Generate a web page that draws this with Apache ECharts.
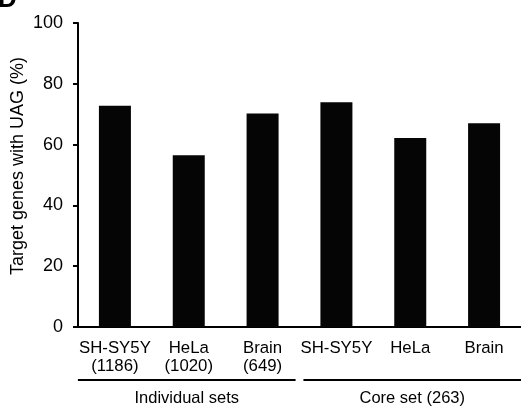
<!DOCTYPE html>
<html><head><meta charset="utf-8">
<script src="https://cdn.jsdelivr.net/npm/echarts@6/dist/echarts.min.js"></script>
<style>html,body{margin:0;padding:0;background:#fff}#c{width:521px;height:407px}</style>
</head><body><div id="c"></div>
<script>
const categories = ['SH-SY5Y\n(1186)', 'HeLa\n(1020)', 'Brain\n(649)', 'SH-SY5Y', 'HeLa', 'Brain'];
const values = [72.8, 56.5, 70.2, 73.9, 62.2, 67.0];
const yTicks = [0, 20, 40, 60, 80, 100];
const groups = [
  { name: 'Individual sets', from: 0, to: 2 },
  { name: 'Core set (263)', from: 3, to: 5 }
];
const FONT = '"Liberation Sans", Arial, sans-serif';
const chart = echarts.init(document.getElementById('c'), null, { renderer: 'canvas' });
const option = {
  animation: false,
  backgroundColor: '#fff',
  grid: { left: 78, right: 0, top: 23, bottom: 80, containLabel: false, outerBoundsMode: 'none' },
  xAxis: {
    type: 'category', data: categories,
    axisLine: { lineStyle: { color: '#000', width: 2 } },
    axisTick: { show: false },
    axisLabel: { color: '#000', fontSize: 16.8, fontFamily: FONT, margin: 12, lineHeight: 18, interval: 0 }
  },
  yAxis: {
    type: 'value', min: yTicks[0], max: yTicks[yTicks.length - 1], interval: 20,
    name: 'Target genes with UAG (%)', nameLocation: 'middle', nameGap: 51, nameMoveOverlap: false,
    nameTextStyle: { color: '#000', fontSize: 18, fontFamily: FONT, padding: [0, 0, 0, 18] },
    splitLine: { show: false },
    axisLine: { show: true, lineStyle: { color: '#000', width: 2 } },
    axisTick: { show: true, length: 5, lineStyle: { color: '#000', width: 2 } },
    axisLabel: { color: '#000', fontSize: 18, fontFamily: FONT, margin: 15 }
  },
  series: [{
    type: 'bar', data: values, barWidth: 32,
    itemStyle: { color: '#050505' }
  }]
};
chart.setOption(option);
// group brackets under the axis
const half = 37;
const els = [{ type: 'text', left: -2, top: -13, style: { text: 'D', fill: '#000', font: 'bold 26px ' + FONT } }];
groups.forEach((g, i) => {
  const x1 = chart.convertToPixel({ xAxisIndex: 0 }, g.from) - half + (i === 0 ? 0 : 4);
  const x2 = chart.convertToPixel({ xAxisIndex: 0 }, g.to) + half - (i === 0 ? 4 : 0);
  els.push({ type: 'line', shape: { x1: x1, y1: 380, x2: x2, y2: 380 }, style: { stroke: '#000', lineWidth: 2 } });
  els.push({ type: 'text', x: (x1 + x2) / 2, y: 398, style: { text: g.name, fill: '#000', font: '16.5px ' + FONT, textAlign: 'center', textVerticalAlign: 'middle' } });
});
chart.setOption({ graphic: els });
</script></body></html>
